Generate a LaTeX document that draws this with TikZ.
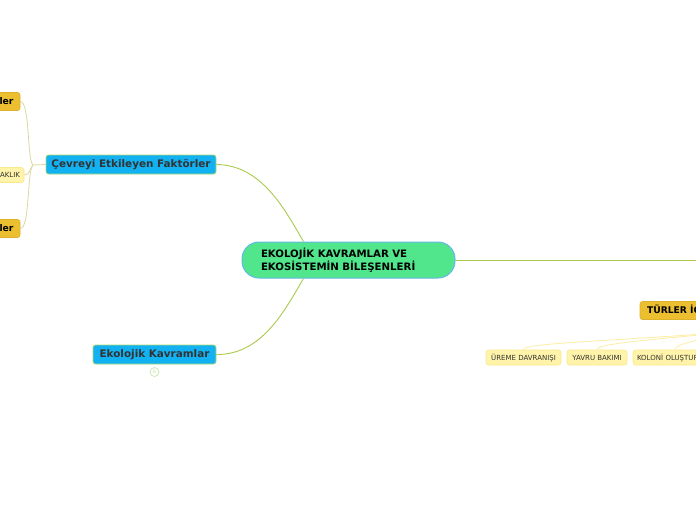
\documentclass[tikz,border=0pt]{standalone}
\usepackage{fontspec}
\setmainfont{DejaVu Sans}
\begin{document}
\begin{tikzpicture}[x=1pt,y=-1pt,
  mainline/.style={draw=lineGreen, line width=0.9pt},
  subline/.style={draw=lineKhaki, line width=0.8pt},
  leafline/.style={draw=lineYellow, line width=0.8pt},
  centralbox/.style={draw=centralBorder, line width=1pt, fill=centralFill, rounded corners=17pt,
     minimum width=213pt, minimum height=36pt, inner sep=0pt, text=black,
     font=\fontsize{10.2}{13}\selectfont\bfseries, align=left, text width=175pt},
  bluebox/.style={draw=blueBorder, line width=0.8pt, fill=blueFill, rounded corners=2.5pt,
     minimum height=19pt, inner sep=0pt, text=textGrey, font=\fontsize{10.4}{12}\selectfont\bfseries},
  goldbox/.style={draw=goldBorder, line width=0.6pt, fill=goldFill, rounded corners=2.5pt,
     minimum height=18pt, inner sep=0pt, text=black, font=\fontsize{9.2}{11}\selectfont\bfseries},
  paleleaf/.style={draw=paleBorder, line width=0.6pt, fill=paleFill, rounded corners=2.5pt,
     minimum height=15pt, inner sep=0pt, text=textGrey, font=\fontsize{7}{8}\selectfont},
  countdot/.style={circle, draw=dotGreen, line width=0.7pt, minimum size=9pt, inner sep=0pt,
     text=dotGreen, font=\fontsize{5}{5}\selectfont}
]
\definecolor{lineGreen}{HTML}{AAC94F}
\definecolor{lineKhaki}{HTML}{DCD79E}
\definecolor{lineYellow}{HTML}{FCEDA2}
\definecolor{centralFill}{HTML}{52E68C}
\definecolor{centralBorder}{HTML}{62B8E6}
\definecolor{blueFill}{HTML}{12B1F2}
\definecolor{blueBorder}{HTML}{A8D870}
\definecolor{textGrey}{HTML}{333333}
\definecolor{goldFill}{HTML}{EBBF2F}
\definecolor{goldBorder}{HTML}{DDB22A}
\definecolor{paleFill}{HTML}{FFF4AA}
\definecolor{paleBorder}{HTML}{FBE78C}
\definecolor{dotGreen}{HTML}{C9E5A6}

\useasboundingbox (0,0) rectangle (696,520);
\clip (0,0) rectangle (696,520);

% nodes
\node[centralbox] (central) at (348.5,260) {EKOLOJİK KAVRAMLAR VE\\EKOSİSTEMİN BİLEŞENLERİ};
\node[bluebox, minimum width=170pt] (cevre) at (131,164.5) {Çevreyi Etkileyen Faktörler};
\node[bluebox, minimum width=123pt] (ekoloji) at (154.5,354.5) {Ekolojik Kavramlar};
\node[countdot] (count) at (154.5,372) {6};

\node[goldbox, minimum width=60pt, text width=47pt, align=right] (abiyotik) at (-10,101.5) {ler};
\node[goldbox, minimum width=60pt, text width=47pt, align=right] (biyotik) at (-10,228.5) {ler};
\node[paleleaf, minimum width=60pt, text width=52pt, align=right] (sicaklik) at (-6,175) {AKLIK};

\node[goldbox, minimum width=120pt, text width=106pt, align=left] (turler) at (700,310.5) {TÜRLER İÇİ};
\node[paleleaf, minimum width=75pt] (ureme) at (523.5,357.5) {ÜREME DAVRANIŞI};
\node[paleleaf, minimum width=60pt] (yavru) at (597,357.5) {YAVRU BAKIMI};
\node[paleleaf, minimum width=90pt, text width=82pt, align=left] (koloni) at (678,357.5) {KOLONİ OLUŞTURMA};

\coordinate (rightchild) at (700,260);
\coordinate (leafparent) at (760,330);
\coordinate (split) at (33,165);

% main connectors
\draw[mainline] (cevre.east) .. controls (262,165) and (285,210) .. ([xshift=-45pt]central.north);
\draw[mainline] (ekoloji.east) .. controls (262,355) and (285,310) .. ([xshift=-45pt]central.south);
\draw[mainline] (central.east) -- (rightchild);

% left sub connectors
\draw[subline] (cevre.west) -- (split);
\draw[subline] (split) .. controls (27,160) and (30,101.5) .. (abiyotik.east);
\draw[subline] (split) .. controls (30,168) and (30,175) .. (sicaklik.east);
\draw[subline] (split) .. controls (27,170) and (30,228.5) .. (biyotik.east);

% leaf connectors
\draw[leafline] (ureme.north) .. controls (523,343) and (600,342) .. (leafparent);
\draw[leafline] (yavru.north) .. controls (597,344) and (640,340) .. (leafparent);
\draw[leafline] (koloni.north -| 675,0) .. controls (675,344) and (700,338) .. (leafparent);
\end{tikzpicture}
\end{document}
